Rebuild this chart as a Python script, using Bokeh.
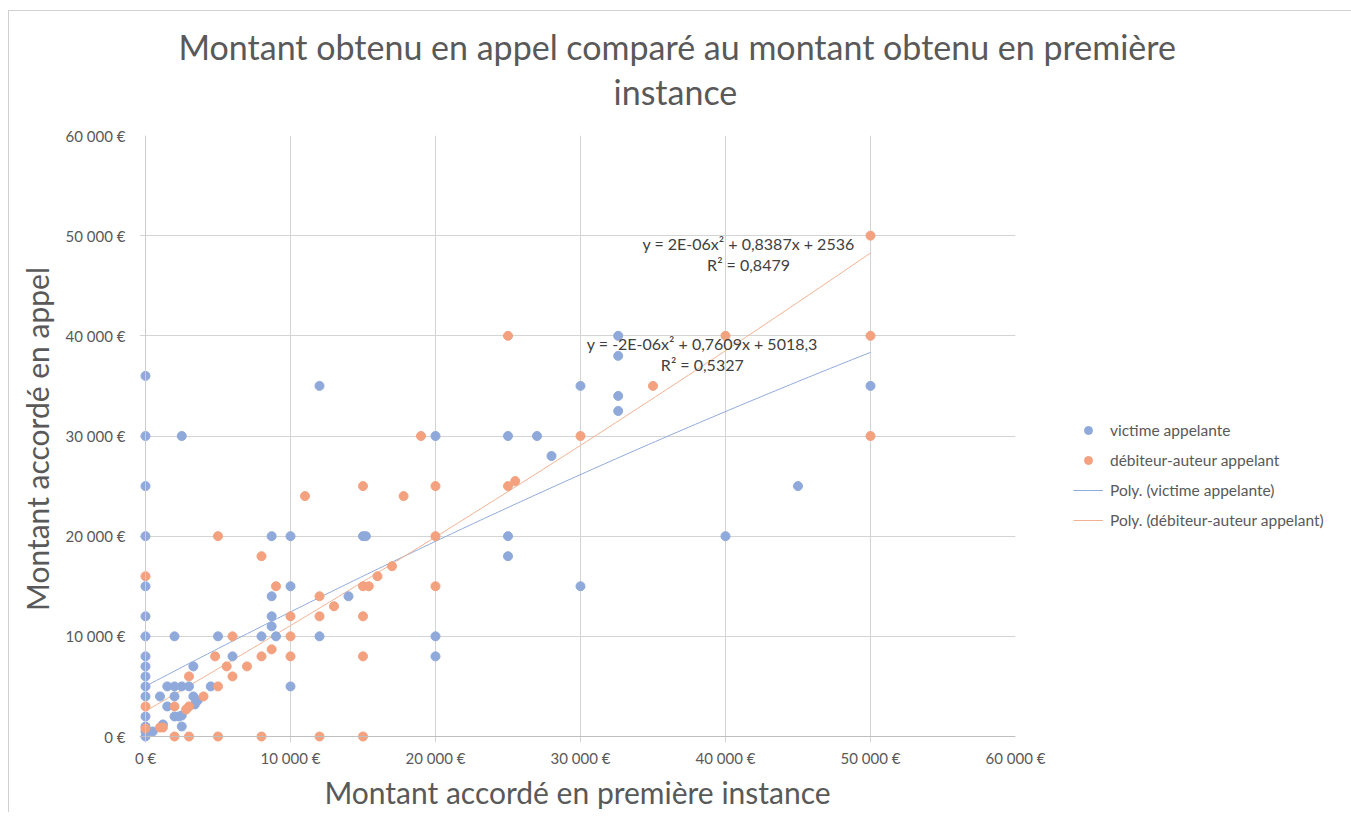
import numpy as np
from bokeh.plotting import figure
from bokeh.models import (Range1d, Label, Legend, LegendItem, CustomJSTickFormatter,
                          FixedTicker, Span, Title)
from bokeh.embed import file_html
from bokeh.resources import INLINE

# ---------------- data ----------------
title_line1 = "Montant obtenu en appel comparé au montant obtenu en première"
title_line2 = "instance"
x_label = "Montant accordé en première instance"
y_label = "Montant accordé en appel"
series_names = ["victime appelante", "débiteur-auteur appelant"]
trend_names = ["Poly. (victime appelante)", "Poly. (débiteur-auteur appelant)"]
tick_values = [0, 10000, 20000, 30000, 40000, 50000, 60000]

victime_x = [0, 0, 0, 0, 0, 0, 0, 0, 0, 0, 0, 0, 0, 0, 0, 0,
             500, 1200, 1000, 1500, 2000, 2500, 3000, 1500, 2000, 2000, 2300, 2500, 2500,
             3300, 3300, 3600, 3400, 4500, 2000, 2500, 5000, 6000, 8000, 9000,
             8700, 8700, 8700, 8700, 10000, 10000, 10000, 12000, 12000, 14000,
             15000, 15200, 20000, 20000, 20000, 25000, 27000, 28000, 25000, 25000,
             30000, 30000, 32600, 32600, 32600, 32600, 40000, 45000, 50000]
victime_y = [36000, 30000, 25000, 20000, 15000, 12000, 10000, 8000, 7000, 6000, 5000, 4000, 2000, 1000, 500, 0,
             500, 1200, 4000, 5000, 5000, 5000, 5000, 3000, 4000, 2000, 2000, 2100, 1000,
             7000, 4000, 3600, 3200, 5000, 10000, 30000, 10000, 8000, 10000, 10000,
             14000, 12000, 11000, 20000, 20000, 15000, 5000, 10000, 35000, 14000,
             20000, 20000, 30000, 10000, 8000, 30000, 30000, 28000, 20000, 18000,
             35000, 15000, 40000, 38000, 34000, 32500, 20000, 25000, 35000]

debiteur_x = [0, 0, 0, 1000, 1200, 2000, 3000, 5000, 8000, 12000, 15000,
              2000, 3000, 2800, 3000, 4000, 5000, 4800, 5000, 6000, 5600, 6000, 7000,
              8000, 8700, 8000, 9000, 10000, 10000, 10000, 11000, 12000, 12000, 13000,
              15000, 15000, 15400, 15000, 15000, 16000, 17000, 17800, 19000,
              20000, 20000, 20000, 25000, 25000, 25500, 30000, 35000, 40000,
              50000, 50000, 50000]
debiteur_y = [16000, 3000, 800, 900, 900, 0, 0, 0, 0, 0, 0,
              3000, 6000, 2700, 3000, 4000, 5000, 8000, 20000, 10000, 7000, 6000, 7000,
              8000, 8700, 18000, 15000, 12000, 10000, 8000, 24000, 14000, 12000, 13000,
              25000, 15000, 15000, 12000, 8000, 16000, 17000, 24000, 30000,
              25000, 20000, 15000, 40000, 25000, 25500, 30000, 35000, 40000,
              50000, 40000, 30000]

# polynomial trendline coefficients (a, b, c)
trend_victime = [-1.885e-6, 0.7609, 5018.3]
trend_debiteur = [1.52e-6, 0.8387, 2536.0]
trend_x_max = 50000

eq_victime = ["y = -2E-06x² + 0,7609x + 5018,3", "R² = 0,5327"]
eq_debiteur = ["y = 2E-06x² + 0,8387x + 2536", "R² = 0,8479"]

# ---------------- styling ----------------
BLUE = "#8FA9DB"
ORANGE = "#F3A17F"
BLUE_LINE = "#8FAADC"
ORANGE_LINE = "#F4B191"
GREY = "#595959"
FONT = "Lato"

p = figure(frame_width=876, frame_height=607,
           min_border_left=130, min_border_right=328,
           min_border_top=10, min_border_bottom=70,
           x_range=Range1d(-414, 60000), y_range=Range1d(-599, 60000),
           output_backend="svg", toolbar_location=None,
           background_fill_color="white", border_fill_color="white")
p.outline_line_color = None
p.styles = {"border-left": "1px solid #d0d0d0", "border-top": "1px solid #d0d0d0",
            "border-right": "1px solid #d0d0d0", "margin-left": "8px", "margin-top": "10px"}

# titles (added from the frame outward)
p.add_layout(Title(text=" ", text_font_size="20px", standoff=0), "above")
p.add_layout(Title(text=title_line2, align="left", offset=474, text_font=FONT,
                   text_font_size="34px", text_font_style="normal", text_color=GREY,
                   standoff=0), "above")
p.add_layout(Title(text=title_line1, align="left", offset=39, text_font=FONT,
                   text_font_size="34px", text_font_style="normal", text_color=GREY,
                   standoff=3), "above")
p.add_layout(Title(text=" ", text_font_size="8px", standoff=0), "above")

fmt = CustomJSTickFormatter(code="""
const s = Math.round(tick).toString().replace(/\\B(?=(\\d{3})+(?!\\d))/g, " ");
return s + " €";
""")
for ax in (p.xaxis, p.yaxis):
    ax.ticker = FixedTicker(ticks=tick_values)
    ax.formatter = fmt
    ax.axis_line_color = None
    ax.major_tick_line_color = None
    ax.minor_tick_line_color = None
    ax.major_label_text_font = FONT
    ax.major_label_text_font_size = "15px"
    ax.major_label_text_color = GREY
    ax.axis_label_text_font = FONT
    ax.axis_label_text_font_size = "30px"
    ax.axis_label_text_font_style = "normal"
    ax.axis_label_text_color = GREY
p.xaxis.major_label_standoff = 0
p.yaxis.major_label_standoff = 8
p.xaxis.axis_label = x_label
p.yaxis.axis_label = y_label
p.xaxis.axis_label_standoff = 4
p.yaxis.axis_label_standoff = 8

for g in (p.xgrid, p.ygrid):
    g.ticker = FixedTicker(ticks=tick_values)
    g.grid_line_color = "#d4d4d4"
    g.grid_line_width = 1
p.add_layout(Span(location=0, dimension="width", line_color="#bfbfbf", line_width=1))
p.add_layout(Span(location=0, dimension="height", line_color="#cccccc", line_width=1))

# trendlines
xs = np.linspace(0, trend_x_max, 200)
r_tv = p.line(xs, np.polyval(trend_victime, xs), line_color=BLUE_LINE, line_width=1)
r_td = p.line(xs, np.polyval(trend_debiteur, xs), line_color=ORANGE_LINE, line_width=1)

r_v = p.scatter(victime_x, victime_y, size=9, fill_color=BLUE, line_color=BLUE)
r_d = p.scatter(debiteur_x, debiteur_y, size=9, fill_color=ORANGE, line_color=ORANGE)

legend = Legend(items=[LegendItem(label=series_names[0], renderers=[r_v]),
                       LegendItem(label=series_names[1], renderers=[r_d]),
                       LegendItem(label=trend_names[0], renderers=[r_tv]),
                       LegendItem(label=trend_names[1], renderers=[r_td])],
                location=(58, 212), orientation="vertical",
                glyph_width=30, glyph_height=20, label_height=20, spacing=10,
                label_standoff=7, padding=0, margin=0,
                label_text_font=FONT, label_text_font_size="15.5px",
                label_text_color=GREY, border_line_color=None,
                background_fill_alpha=0)
p.add_layout(legend, "right")

# equation labels
for (lines, cx, cy) in ((eq_debiteur, 41590, 49200), (eq_victime, 38400, 39220)):
    p.add_layout(Label(x=cx, y=cy, text=lines[0], text_align="center", text_baseline="middle",
                       text_font=FONT, text_font_size="16px", text_color="#404040"))
    p.add_layout(Label(x=cx, y=cy - 2100, text=lines[1], text_align="center", text_baseline="middle",
                       text_font=FONT, text_font_size="16px", text_color="#404040"))

open("out.html", "w").write(file_html(p, INLINE))
